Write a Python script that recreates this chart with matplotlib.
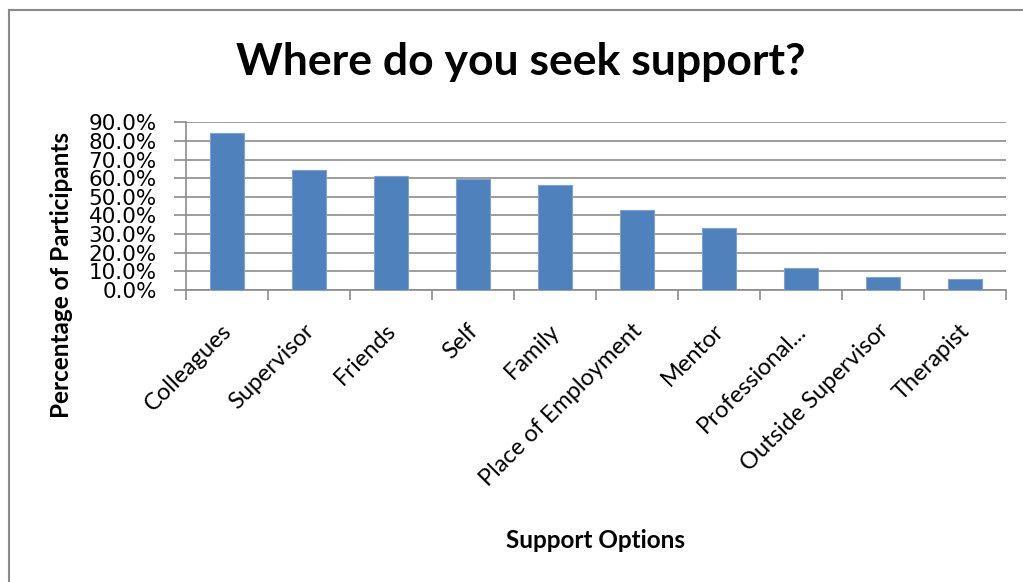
import numpy as np
import matplotlib.pyplot as plt
from matplotlib.lines import Line2D
from matplotlib.ticker import FuncFormatter

# datos
options = ['Colleagues', 'Supervisor', 'Friends', 'Self', 'Family',
           'Place of Employment', 'Mentor', 'Professional...',
           'Outside Supervisor', 'Therapist']
pct = [84.1, 64.2, 61.4, 59.6, 56.5, 42.9, 33.1, 12.0, 7.1, 5.7]
yticks = [0, 10, 20, 30, 40, 50, 60, 70, 80, 90]

fam = ['Lato', 'DejaVu Sans']
grid_c = '#8c8c8c'

fig = plt.figure(figsize=(10.23, 5.82), dpi=100)
ax = fig.add_axes([186/1023, 1-290/582, 820/1023, (290-122.3)/582])

x = np.arange(len(options))
ax.bar(x, pct, width=0.41, color='#4F81BD', edgecolor='#7fa3d0', linewidth=0.8, zorder=3)

ax.set_xlim(-0.5, len(options)-0.5)
ax.set_ylim(0, 90)
ax.set_yticks(yticks)
ax.yaxis.set_major_formatter(FuncFormatter(lambda v, p: f'{v:.1f}%'))
ax.tick_params(axis='y', labelsize=15.5, length=9, width=1.2, color=grid_c, pad=12,
               labelfontfamily='DejaVu Sans')
ax.grid(axis='y', color=grid_c, linewidth=1.2, zorder=0)

# ticks en los bordes de categoria
ax.set_xticks(np.arange(len(options)+1)-0.5)
ax.set_xticklabels([])
ax.tick_params(axis='x', length=7, width=1.2, color=grid_c)
for i, lab in enumerate(options):
    ax.text(i+0.02, -20, lab, rotation=45, ha='right', va='center', rotation_mode='anchor',
            fontsize=17, family=fam, transform=ax.transData)

for s in ['top', 'right']:
    ax.spines[s].set_visible(False)
ax.spines['left'].set_color(grid_c)
ax.spines['left'].set_linewidth(1.2)
ax.spines['bottom'].set_color(grid_c)
ax.spines['bottom'].set_linewidth(1.2)

fig.text(521/1023, 1-62/582, 'Where do you seek support?', ha='center', va='center',
         fontsize=32, fontweight='bold', family=fam)
fig.text(62/1023, 1-275/582, 'Percentage of Participants', ha='center', va='center',
         rotation=90, fontsize=17.5, fontweight='bold', family=fam)
fig.text(595/1023, 1-540/582, 'Support Options', ha='center', va='center',
         fontsize=17.5, fontweight='bold', family=fam)

# marco del grafico
fig.add_artist(Line2D([9/1023, 9/1023], [0, 1-10/582], transform=fig.transFigure,
                      color='#8a8a8a', linewidth=1.5))
fig.add_artist(Line2D([9/1023, 1], [1-10/582, 1-10/582], transform=fig.transFigure,
                      color='#8a8a8a', linewidth=1.5))

plt.savefig('out.png', dpi=100)
